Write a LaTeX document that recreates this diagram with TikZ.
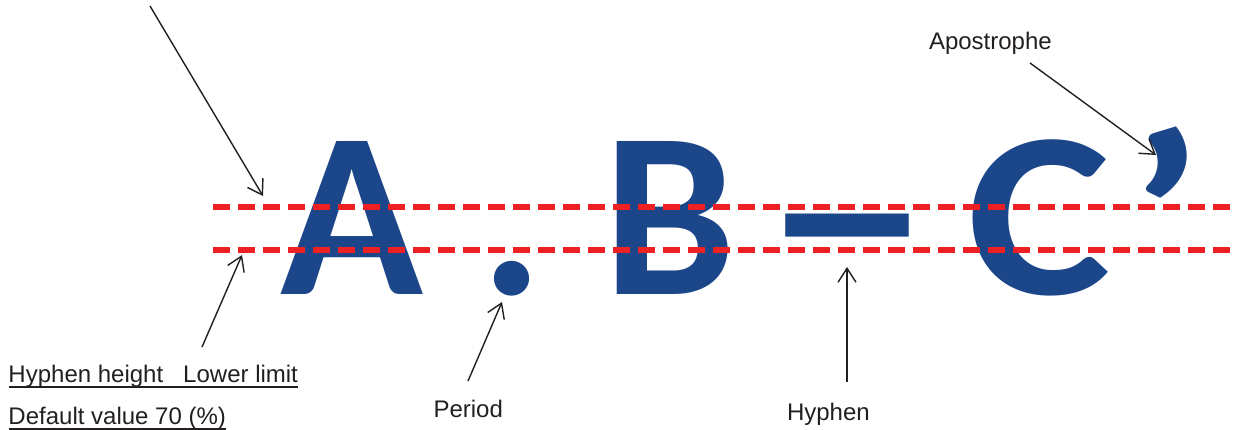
\documentclass[tikz,border=0pt]{standalone}
\usepackage{fontspec}
\setmainfont{Liberation Sans}
\newfontfamily\glyphfont{Carlito}[BoldFont={* Bold}]
\usetikzlibrary{arrows.meta}
\definecolor{inkblue}{RGB}{28,70,138}
\definecolor{dashred}{RGB}{237,32,36}
\definecolor{ink}{RGB}{35,31,32}
\tikzset{
  bigglyph/.style={inner sep=0pt, outer sep=0pt, anchor=base, text=inkblue,
    font=\glyphfont\bfseries\fontsize{236}{236}\selectfont},
  label/.style={inner sep=0pt, outer sep=0pt, anchor=base west, text=ink,
    font=\fontsize{24}{24}\selectfont},
  guide/.style={draw=dashred, line width=5.5pt, dash pattern=on 17pt off 8pt},
  pointer/.style={draw=ink, line width=1.4pt, -{Straight Barb[length=14pt,width=18pt,line width=1.4pt]}},
  uline/.style={draw=ink, line width=1.5pt}
}
\begin{document}
\begin{tikzpicture}[x=1pt,y=-1pt]
\useasboundingbox (0,0) rectangle (1238,430);
% big glyphs
\node[bigglyph] (A) at (351.5,294) {A};
\node[bigglyph] (P) at (512,294) {.};
\node[bigglyph] (B) at (670,294) {B};
\node[bigglyph] (H) at (847,300) {\scalebox{1.48}[1.12]{–}};
\node[bigglyph] (C) at (1039,294) {\scalebox{1.15}[1]{C}};
\node[bigglyph] (Q) at (1166,298) {\scalebox{1.25}[1]{’}};
% dashed guide lines
\coordinate (u1) at (213,207);
\coordinate (u2) at (1238,207);
\coordinate (l1) at (213,250);
\coordinate (l2) at (1238,250);
\draw[guide] (u1) -- (u2);
\draw[guide] (l1) -- (l2);
% labels
\node[label] (lab1) at (8.5,382) {Hyphen height~~~Lower limit};
\node[label] (lab2) at (8.5,424) {Default value 70 (\%)};
\node[label] (per) at (433.5,417) {Period};
\node[label] (hyp) at (787,420) {Hyphen};
\node[label] (apo) at (929,50) {Apostrophe};
\draw[uline] (lab1.south west) -- (lab1.south east);
\draw[uline] (lab2.south west) -- (lab2.south east);
% pointer coordinates
\coordinate (t1a) at (150,6);
\coordinate (t1b) at (263,196);
\coordinate (t2a) at (202,347);
\coordinate (t2b) at (242,255);
\coordinate (t3a) at (468,381);
\coordinate (t3b) at (502,302);
\coordinate (t4a) at (847,382);
\coordinate (t4b) at (847,267);
\coordinate (t5a) at (1030,63);
\coordinate (t5b) at (1156,155);
\draw[pointer] (t1a) -- (t1b);
\draw[pointer] (t2a) -- (t2b);
\draw[pointer] (t3a) -- (t3b);
\draw[pointer] (t4a) -- (t4b);
\draw[pointer] (t5a) -- (t5b);
\end{tikzpicture}
\end{document}
